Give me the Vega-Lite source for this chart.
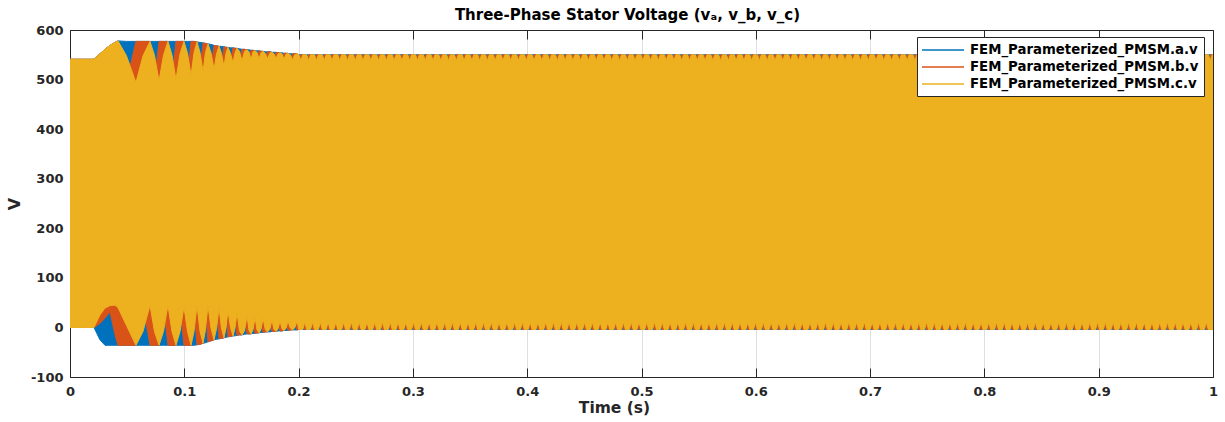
{
"$schema": "https://vega.github.io/schema/vega-lite/v6.json",
"width": 1143, "height": 347,
"autosize": {"type": "none"},
"padding": {"left": 70, "top": 30, "right": 12, "bottom": 45},
"background": "white",
"config": {"view": {"stroke": null}, "font": "DejaVu Sans"},
"title": {"text": "Three-Phase Stator Voltage (vₐ, v_b, v_c)", "font": "DejaVu Sans", "fontSize": 15, "fontWeight": "bold", "color": "#000000", "anchor": "middle", "baseline": "alphabetic", "offset": 9, "dy": 20, "dx": -14},
"data": {"format": {"type": "csv", "parse": {"t": "number", "ah": "number", "al": "number", "bh": "number", "bl": "number", "ch": "number", "cl": "number"}},
"values": "t,ah,al,bh,bl,ch,cl\n0,541,0,541,0,541,0\n0.0210,541,0,541,0,541,0\n0.0262,552,-25,552,8,552,25\n0.0306,561,-36,561,19,561,39\n0.0350,569,-36,569,31,569,44\n0.0394,575,-36,575,-15,575,45\n0.0420,578,-36,578,-36,578,40\n0.0494,577,-36,494,-36,548,4\n0.0577,577,-36,577,-36,494,-36\n0.0639,577,-36,577,45,548,-8\n0.0700,577,-36,577,-36,577,45\n0.0739,577,-36,497,-36,549,-8\n0.0779,577,-36,577,-36,497,-36\n0.0818,577,-36,577,45,549,-8\n0.0857,577,-36,577,-36,577,45\n0.0892,577,-36,500,-36,550,-8\n0.0927,577,-36,577,-36,500,-36\n0.0962,577,-36,577,42,551,-9\n0.0997,577,-36,577,-36,577,42\n0.1028,577,-36,508,-36,553,-8\n0.1059,577,-36,577,-36,508,-36\n0.1085,577,-36,577,44,554,-8\n0.1111,576,-35,576,-35,576,45\n0.1137,575,-34,517,-34,555,-7\n0.1164,574,-32,574,-32,516,-32\n0.1185,573,-31,573,43,554,-5\n0.1207,572,-29,572,-29,572,45\n0.1234,571,-27,522,-27,554,-2\n0.1260,569,-25,569,-25,520,-25\n0.1282,568,-24,568,40,552,-2\n0.1304,567,-23,567,-23,567,41\n0.1325,567,-22,527,-22,553,-1\n0.1347,566,-21,566,-21,526,-21\n0.1365,565,-20,565,34,553,-1\n0.1382,565,-19,565,-19,565,35\n0.1404,564,-18,534,-18,553,0\n0.1426,564,-17,564,-17,534,-17\n0.1444,563,-17,563,29,554,-1\n0.1461,563,-16,563,-16,563,30\n0.1483,562,-15,538,-15,557,-7\n0.1505,561,-15,561,-15,537,-15\n0.1527,561,-14,561,23,557,-7\n0.1549,560,-13,560,-13,560,24\n0.1566,560,-13,541,-13,556,-6\n0.1584,559,-13,559,-13,540,-13\n0.1601,559,-12,559,21,556,-5\n0.1619,558,-12,558,-12,558,21\n0.1636,558,-11,542,-11,555,-5\n0.1654,558,-11,558,-11,542,-11\n0.1671,557,-10,557,19,554,-4\n0.1689,557,-10,557,-10,557,19\n0.1708,556,-9,542,-9,553,-4\n0.1728,556,-9,556,-9,542,-9\n0.1748,556,-9,556,14,553,-4\n0.1767,555,-8,555,-8,555,15\n0.1785,555,-8,542,-8,552,-4\n0.1802,555,-8,555,-8,542,-8\n0.1820,554,-7,554,13,552,-3\n0.1837,554,-7,554,-7,554,13\n0.1855,554,-7,542,-7,552,-3\n0.1872,553,-6,553,-6,541,-6\n0.1890,553,-6,553,13,551,-2\n0.1907,553,-6,553,-6,553,13\n0.1927,552,-5,540,-5,550,-1\n0.1947,552,-5,552,-5,540,-5\n0.1966,552,-5,552,13,550,-1\n0.1986,552,-5,552,-5,552,13\n0.2003,550,-4,538,-4,550,-4\n0.2020,550,-4,550,-4,538,-4\n0.2037,550,-4,550,11,550,-4\n0.2054,550,-4,550,-4,550,11\n0.2071,550,-4,538,-4,550,-4\n0.2088,550,-4,550,-4,538,-4\n0.2105,550,-4,550,11,550,-4\n0.2122,550,-4,550,-4,550,11\n0.2139,550,-4,538,-4,550,-4\n0.2156,550,-4,550,-4,538,-4\n0.2173,550,-4,550,11,550,-4\n0.2190,550,-4,550,-4,550,11\n0.2207,550,-4,538,-4,550,-4\n0.2224,550,-4,550,-4,538,-4\n0.2241,550,-4,550,11,550,-4\n0.2258,550,-4,550,-4,550,11\n0.2275,550,-4,538,-4,550,-4\n0.2292,550,-4,550,-4,538,-4\n0.2309,550,-4,550,11,550,-4\n0.2326,550,-4,550,-4,550,11\n0.2343,550,-4,538,-4,550,-4\n0.2360,550,-4,550,-4,538,-4\n0.2377,550,-4,550,11,550,-4\n0.2394,550,-4,550,-4,550,11\n0.2411,550,-4,538,-4,550,-4\n0.2428,550,-4,550,-4,538,-4\n0.2445,550,-4,550,11,550,-4\n0.2462,550,-4,550,-4,550,11\n0.2479,550,-4,538,-4,550,-4\n0.2496,550,-4,550,-4,538,-4\n0.2513,550,-4,550,11,550,-4\n0.2530,550,-4,550,-4,550,11\n0.2547,550,-4,538,-4,550,-4\n0.2564,550,-4,550,-4,538,-4\n0.2581,550,-4,550,11,550,-4\n0.2598,550,-4,550,-4,550,11\n0.2615,550,-4,538,-4,550,-4\n0.2632,550,-4,550,-4,538,-4\n0.2649,550,-4,550,11,550,-4\n0.2666,550,-4,550,-4,550,11\n0.2683,550,-4,538,-4,550,-4\n0.2700,550,-4,550,-4,538,-4\n0.2717,550,-4,550,11,550,-4\n0.2734,550,-4,550,-4,550,11\n0.2751,550,-4,538,-4,550,-4\n0.2768,550,-4,550,-4,538,-4\n0.2785,550,-4,550,11,550,-4\n0.2802,550,-4,550,-4,550,11\n0.2819,550,-4,538,-4,550,-4\n0.2836,550,-4,550,-4,538,-4\n0.2853,550,-4,550,11,550,-4\n0.2870,550,-4,550,-4,550,11\n0.2887,550,-4,538,-4,550,-4\n0.2904,550,-4,550,-4,538,-4\n0.2921,550,-4,550,11,550,-4\n0.2938,550,-4,550,-4,550,11\n0.2955,550,-4,538,-4,550,-4\n0.2972,550,-4,550,-4,538,-4\n0.2989,550,-4,550,11,550,-4\n0.3006,550,-4,550,-4,550,11\n0.3023,550,-4,538,-4,550,-4\n0.3040,550,-4,550,-4,538,-4\n0.3057,550,-4,550,11,550,-4\n0.3074,550,-4,550,-4,550,11\n0.3091,550,-4,538,-4,550,-4\n0.3108,550,-4,550,-4,538,-4\n0.3125,550,-4,550,11,550,-4\n0.3142,550,-4,550,-4,550,11\n0.3159,550,-4,538,-4,550,-4\n0.3176,550,-4,550,-4,538,-4\n0.3193,550,-4,550,11,550,-4\n0.3210,550,-4,550,-4,550,11\n0.3227,550,-4,538,-4,550,-4\n0.3244,550,-4,550,-4,538,-4\n0.3261,550,-4,550,11,550,-4\n0.3278,550,-4,550,-4,550,11\n0.3295,550,-4,538,-4,550,-4\n0.3312,550,-4,550,-4,538,-4\n0.3329,550,-4,550,11,550,-4\n0.3346,550,-4,550,-4,550,11\n0.3363,550,-4,538,-4,550,-4\n0.3380,550,-4,550,-4,538,-4\n0.3397,550,-4,550,11,550,-4\n0.3414,550,-4,550,-4,550,11\n0.3431,550,-4,538,-4,550,-4\n0.3448,550,-4,550,-4,538,-4\n0.3465,550,-4,550,11,550,-4\n0.3482,550,-4,550,-4,550,11\n0.3499,550,-4,538,-4,550,-4\n0.3516,550,-4,550,-4,538,-4\n0.3533,550,-4,550,11,550,-4\n0.3550,550,-4,550,-4,550,11\n0.3567,550,-4,538,-4,550,-4\n0.3584,550,-4,550,-4,538,-4\n0.3601,550,-4,550,11,550,-4\n0.3618,550,-4,550,-4,550,11\n0.3635,550,-4,538,-4,550,-4\n0.3652,550,-4,550,-4,538,-4\n0.3669,550,-4,550,11,550,-4\n0.3686,550,-4,550,-4,550,11\n0.3703,550,-4,538,-4,550,-4\n0.3720,550,-4,550,-4,538,-4\n0.3737,550,-4,550,11,550,-4\n0.3754,550,-4,550,-4,550,11\n0.3771,550,-4,538,-4,550,-4\n0.3788,550,-4,550,-4,538,-4\n0.3805,550,-4,550,11,550,-4\n0.3822,550,-4,550,-4,550,11\n0.3839,550,-4,538,-4,550,-4\n0.3856,550,-4,550,-4,538,-4\n0.3873,550,-4,550,11,550,-4\n0.3890,550,-4,550,-4,550,11\n0.3907,550,-4,538,-4,550,-4\n0.3924,550,-4,550,-4,538,-4\n0.3941,550,-4,550,11,550,-4\n0.3958,550,-4,550,-4,550,11\n0.3975,550,-4,538,-4,550,-4\n0.3992,550,-4,550,-4,538,-4\n0.4009,550,-4,550,11,550,-4\n0.4026,550,-4,550,-4,550,11\n0.4043,550,-4,538,-4,550,-4\n0.4060,550,-4,550,-4,538,-4\n0.4077,550,-4,550,11,550,-4\n0.4094,550,-4,550,-4,550,11\n0.4111,550,-4,538,-4,550,-4\n0.4128,550,-4,550,-4,538,-4\n0.4145,550,-4,550,11,550,-4\n0.4162,550,-4,550,-4,550,11\n0.4179,550,-4,538,-4,550,-4\n0.4196,550,-4,550,-4,538,-4\n0.4213,550,-4,550,11,550,-4\n0.4230,550,-4,550,-4,550,11\n0.4247,550,-4,538,-4,550,-4\n0.4264,550,-4,550,-4,538,-4\n0.4281,550,-4,550,11,550,-4\n0.4298,550,-4,550,-4,550,11\n0.4315,550,-4,538,-4,550,-4\n0.4332,550,-4,550,-4,538,-4\n0.4349,550,-4,550,11,550,-4\n0.4366,550,-4,550,-4,550,11\n0.4383,550,-4,538,-4,550,-4\n0.4400,550,-4,550,-4,538,-4\n0.4417,550,-4,550,11,550,-4\n0.4434,550,-4,550,-4,550,11\n0.4451,550,-4,538,-4,550,-4\n0.4468,550,-4,550,-4,538,-4\n0.4485,550,-4,550,11,550,-4\n0.4502,550,-4,550,-4,550,11\n0.4519,550,-4,538,-4,550,-4\n0.4536,550,-4,550,-4,538,-4\n0.4553,550,-4,550,11,550,-4\n0.4570,550,-4,550,-4,550,11\n0.4587,550,-4,538,-4,550,-4\n0.4604,550,-4,550,-4,538,-4\n0.4621,550,-4,550,11,550,-4\n0.4638,550,-4,550,-4,550,11\n0.4655,550,-4,538,-4,550,-4\n0.4672,550,-4,550,-4,538,-4\n0.4689,550,-4,550,11,550,-4\n0.4706,550,-4,550,-4,550,11\n0.4723,550,-4,538,-4,550,-4\n0.4740,550,-4,550,-4,538,-4\n0.4757,550,-4,550,11,550,-4\n0.4774,550,-4,550,-4,550,11\n0.4791,550,-4,538,-4,550,-4\n0.4808,550,-4,550,-4,538,-4\n0.4825,550,-4,550,11,550,-4\n0.4842,550,-4,550,-4,550,11\n0.4859,550,-4,538,-4,550,-4\n0.4876,550,-4,550,-4,538,-4\n0.4893,550,-4,550,11,550,-4\n0.4910,550,-4,550,-4,550,11\n0.4927,550,-4,538,-4,550,-4\n0.4944,550,-4,550,-4,538,-4\n0.4961,550,-4,550,11,550,-4\n0.4978,550,-4,550,-4,550,11\n0.4995,550,-4,538,-4,550,-4\n0.5012,550,-4,550,-4,538,-4\n0.5029,550,-4,550,11,550,-4\n0.5046,550,-4,550,-4,550,11\n0.5063,550,-4,538,-4,550,-4\n0.5080,550,-4,550,-4,538,-4\n0.5097,550,-4,550,11,550,-4\n0.5114,550,-4,550,-4,550,11\n0.5131,550,-4,538,-4,550,-4\n0.5148,550,-4,550,-4,538,-4\n0.5165,550,-4,550,11,550,-4\n0.5182,550,-4,550,-4,550,11\n0.5199,550,-4,538,-4,550,-4\n0.5216,550,-4,550,-4,538,-4\n0.5233,550,-4,550,11,550,-4\n0.5250,550,-4,550,-4,550,11\n0.5267,550,-4,538,-4,550,-4\n0.5284,550,-4,550,-4,538,-4\n0.5301,550,-4,550,11,550,-4\n0.5318,550,-4,550,-4,550,11\n0.5335,550,-4,538,-4,550,-4\n0.5352,550,-4,550,-4,538,-4\n0.5369,550,-4,550,11,550,-4\n0.5386,550,-4,550,-4,550,11\n0.5403,550,-4,538,-4,550,-4\n0.5420,550,-4,550,-4,538,-4\n0.5437,550,-4,550,11,550,-4\n0.5454,550,-4,550,-4,550,11\n0.5471,550,-4,538,-4,550,-4\n0.5488,550,-4,550,-4,538,-4\n0.5505,550,-4,550,11,550,-4\n0.5522,550,-4,550,-4,550,11\n0.5539,550,-4,538,-4,550,-4\n0.5556,550,-4,550,-4,538,-4\n0.5573,550,-4,550,11,550,-4\n0.5590,550,-4,550,-4,550,11\n0.5607,550,-4,538,-4,550,-4\n0.5624,550,-4,550,-4,538,-4\n0.5641,550,-4,550,11,550,-4\n0.5658,550,-4,550,-4,550,11\n0.5675,550,-4,538,-4,550,-4\n0.5692,550,-4,550,-4,538,-4\n0.5709,550,-4,550,11,550,-4\n0.5726,550,-4,550,-4,550,11\n0.5743,550,-4,538,-4,550,-4\n0.5760,550,-4,550,-4,538,-4\n0.5777,550,-4,550,11,550,-4\n0.5794,550,-4,550,-4,550,11\n0.5811,550,-4,538,-4,550,-4\n0.5828,550,-4,550,-4,538,-4\n0.5845,550,-4,550,11,550,-4\n0.5862,550,-4,550,-4,550,11\n0.5879,550,-4,538,-4,550,-4\n0.5896,550,-4,550,-4,538,-4\n0.5913,550,-4,550,11,550,-4\n0.5930,550,-4,550,-4,550,11\n0.5947,550,-4,538,-4,550,-4\n0.5964,550,-4,550,-4,538,-4\n0.5981,550,-4,550,11,550,-4\n0.5998,550,-4,550,-4,550,11\n0.6015,550,-4,538,-4,550,-4\n0.6032,550,-4,550,-4,538,-4\n0.6049,550,-4,550,11,550,-4\n0.6066,550,-4,550,-4,550,11\n0.6083,550,-4,538,-4,550,-4\n0.6100,550,-4,550,-4,538,-4\n0.6117,550,-4,550,11,550,-4\n0.6134,550,-4,550,-4,550,11\n0.6151,550,-4,538,-4,550,-4\n0.6168,550,-4,550,-4,538,-4\n0.6185,550,-4,550,11,550,-4\n0.6202,550,-4,550,-4,550,11\n0.6219,550,-4,538,-4,550,-4\n0.6236,550,-4,550,-4,538,-4\n0.6253,550,-4,550,11,550,-4\n0.6270,550,-4,550,-4,550,11\n0.6287,550,-4,538,-4,550,-4\n0.6304,550,-4,550,-4,538,-4\n0.6321,550,-4,550,11,550,-4\n0.6338,550,-4,550,-4,550,11\n0.6355,550,-4,538,-4,550,-4\n0.6372,550,-4,550,-4,538,-4\n0.6389,550,-4,550,11,550,-4\n0.6406,550,-4,550,-4,550,11\n0.6423,550,-4,538,-4,550,-4\n0.6440,550,-4,550,-4,538,-4\n0.6457,550,-4,550,11,550,-4\n0.6474,550,-4,550,-4,550,11\n0.6491,550,-4,538,-4,550,-4\n0.6508,550,-4,550,-4,538,-4\n0.6525,550,-4,550,11,550,-4\n0.6542,550,-4,550,-4,550,11\n0.6559,550,-4,538,-4,550,-4\n0.6576,550,-4,550,-4,538,-4\n0.6593,550,-4,550,11,550,-4\n0.6610,550,-4,550,-4,550,11\n0.6627,550,-4,538,-4,550,-4\n0.6644,550,-4,550,-4,538,-4\n0.6661,550,-4,550,11,550,-4\n0.6678,550,-4,550,-4,550,11\n0.6695,550,-4,538,-4,550,-4\n0.6712,550,-4,550,-4,538,-4\n0.6729,550,-4,550,11,550,-4\n0.6746,550,-4,550,-4,550,11\n0.6763,550,-4,538,-4,550,-4\n0.6780,550,-4,550,-4,538,-4\n0.6797,550,-4,550,11,550,-4\n0.6814,550,-4,550,-4,550,11\n0.6831,550,-4,538,-4,550,-4\n0.6848,550,-4,550,-4,538,-4\n0.6865,550,-4,550,11,550,-4\n0.6882,550,-4,550,-4,550,11\n0.6899,550,-4,538,-4,550,-4\n0.6916,550,-4,550,-4,538,-4\n0.6933,550,-4,550,11,550,-4\n0.6950,550,-4,550,-4,550,11\n0.6967,550,-4,538,-4,550,-4\n0.6984,550,-4,550,-4,538,-4\n0.7001,550,-4,550,11,550,-4\n0.7018,550,-4,550,-4,550,11\n0.7035,550,-4,538,-4,550,-4\n0.7052,550,-4,550,-4,538,-4\n0.7069,550,-4,550,11,550,-4\n0.7086,550,-4,550,-4,550,11\n0.7103,550,-4,538,-4,550,-4\n0.7120,550,-4,550,-4,538,-4\n0.7137,550,-4,550,11,550,-4\n0.7154,550,-4,550,-4,550,11\n0.7171,550,-4,538,-4,550,-4\n0.7188,550,-4,550,-4,538,-4\n0.7205,550,-4,550,11,550,-4\n0.7222,550,-4,550,-4,550,11\n0.7239,550,-4,538,-4,550,-4\n0.7256,550,-4,550,-4,538,-4\n0.7273,550,-4,550,11,550,-4\n0.7290,550,-4,550,-4,550,11\n0.7307,550,-4,538,-4,550,-4\n0.7324,550,-4,550,-4,538,-4\n0.7341,550,-4,550,11,550,-4\n0.7358,550,-4,550,-4,550,11\n0.7375,550,-4,538,-4,550,-4\n0.7392,550,-4,550,-4,538,-4\n0.7409,550,-4,550,11,550,-4\n0.7426,550,-4,550,-4,550,11\n0.7443,550,-4,538,-4,550,-4\n0.7460,550,-4,550,-4,538,-4\n0.7477,550,-4,550,11,550,-4\n0.7494,550,-4,550,-4,550,11\n0.7511,550,-4,538,-4,550,-4\n0.7528,550,-4,550,-4,538,-4\n0.7545,550,-4,550,11,550,-4\n0.7562,550,-4,550,-4,550,11\n0.7579,550,-4,538,-4,550,-4\n0.7596,550,-4,550,-4,538,-4\n0.7613,550,-4,550,11,550,-4\n0.7630,550,-4,550,-4,550,11\n0.7647,550,-4,538,-4,550,-4\n0.7664,550,-4,550,-4,538,-4\n0.7681,550,-4,550,11,550,-4\n0.7698,550,-4,550,-4,550,11\n0.7715,550,-4,538,-4,550,-4\n0.7732,550,-4,550,-4,538,-4\n0.7749,550,-4,550,11,550,-4\n0.7766,550,-4,550,-4,550,11\n0.7783,550,-4,538,-4,550,-4\n0.7800,550,-4,550,-4,538,-4\n0.7817,550,-4,550,11,550,-4\n0.7834,550,-4,550,-4,550,11\n0.7851,550,-4,538,-4,550,-4\n0.7868,550,-4,550,-4,538,-4\n0.7885,550,-4,550,11,550,-4\n0.7902,550,-4,550,-4,550,11\n0.7919,550,-4,538,-4,550,-4\n0.7936,550,-4,550,-4,538,-4\n0.7953,550,-4,550,11,550,-4\n0.7970,550,-4,550,-4,550,11\n0.7987,550,-4,538,-4,550,-4\n0.8004,550,-4,550,-4,538,-4\n0.8021,550,-4,550,11,550,-4\n0.8038,550,-4,550,-4,550,11\n0.8055,550,-4,538,-4,550,-4\n0.8072,550,-4,550,-4,538,-4\n0.8089,550,-4,550,11,550,-4\n0.8106,550,-4,550,-4,550,11\n0.8123,550,-4,538,-4,550,-4\n0.8140,550,-4,550,-4,538,-4\n0.8157,550,-4,550,11,550,-4\n0.8174,550,-4,550,-4,550,11\n0.8191,550,-4,538,-4,550,-4\n0.8208,550,-4,550,-4,538,-4\n0.8225,550,-4,550,11,550,-4\n0.8242,550,-4,550,-4,550,11\n0.8259,550,-4,538,-4,550,-4\n0.8276,550,-4,550,-4,538,-4\n0.8293,550,-4,550,11,550,-4\n0.8310,550,-4,550,-4,550,11\n0.8327,550,-4,538,-4,550,-4\n0.8344,550,-4,550,-4,538,-4\n0.8361,550,-4,550,11,550,-4\n0.8378,550,-4,550,-4,550,11\n0.8395,550,-4,538,-4,550,-4\n0.8412,550,-4,550,-4,538,-4\n0.8429,550,-4,550,11,550,-4\n0.8446,550,-4,550,-4,550,11\n0.8463,550,-4,538,-4,550,-4\n0.8480,550,-4,550,-4,538,-4\n0.8497,550,-4,550,11,550,-4\n0.8514,550,-4,550,-4,550,11\n0.8531,550,-4,538,-4,550,-4\n0.8548,550,-4,550,-4,538,-4\n0.8565,550,-4,550,11,550,-4\n0.8582,550,-4,550,-4,550,11\n0.8599,550,-4,538,-4,550,-4\n0.8616,550,-4,550,-4,538,-4\n0.8633,550,-4,550,11,550,-4\n0.8650,550,-4,550,-4,550,11\n0.8667,550,-4,538,-4,550,-4\n0.8684,550,-4,550,-4,538,-4\n0.8701,550,-4,550,11,550,-4\n0.8718,550,-4,550,-4,550,11\n0.8735,550,-4,538,-4,550,-4\n0.8752,550,-4,550,-4,538,-4\n0.8769,550,-4,550,11,550,-4\n0.8786,550,-4,550,-4,550,11\n0.8803,550,-4,538,-4,550,-4\n0.8820,550,-4,550,-4,538,-4\n0.8837,550,-4,550,11,550,-4\n0.8854,550,-4,550,-4,550,11\n0.8871,550,-4,538,-4,550,-4\n0.8888,550,-4,550,-4,538,-4\n0.8905,550,-4,550,11,550,-4\n0.8922,550,-4,550,-4,550,11\n0.8939,550,-4,538,-4,550,-4\n0.8956,550,-4,550,-4,538,-4\n0.8973,550,-4,550,11,550,-4\n0.8990,550,-4,550,-4,550,11\n0.9007,550,-4,538,-4,550,-4\n0.9024,550,-4,550,-4,538,-4\n0.9041,550,-4,550,11,550,-4\n0.9058,550,-4,550,-4,550,11\n0.9075,550,-4,538,-4,550,-4\n0.9092,550,-4,550,-4,538,-4\n0.9109,550,-4,550,11,550,-4\n0.9126,550,-4,550,-4,550,11\n0.9143,550,-4,538,-4,550,-4\n0.9160,550,-4,550,-4,538,-4\n0.9177,550,-4,550,11,550,-4\n0.9194,550,-4,550,-4,550,11\n0.9211,550,-4,538,-4,550,-4\n0.9228,550,-4,550,-4,538,-4\n0.9245,550,-4,550,11,550,-4\n0.9262,550,-4,550,-4,550,11\n0.9279,550,-4,538,-4,550,-4\n0.9296,550,-4,550,-4,538,-4\n0.9313,550,-4,550,11,550,-4\n0.9330,550,-4,550,-4,550,11\n0.9347,550,-4,538,-4,550,-4\n0.9364,550,-4,550,-4,538,-4\n0.9381,550,-4,550,11,550,-4\n0.9398,550,-4,550,-4,550,11\n0.9415,550,-4,538,-4,550,-4\n0.9432,550,-4,550,-4,538,-4\n0.9449,550,-4,550,11,550,-4\n0.9466,550,-4,550,-4,550,11\n0.9483,550,-4,538,-4,550,-4\n0.9500,550,-4,550,-4,538,-4\n0.9517,550,-4,550,11,550,-4\n0.9534,550,-4,550,-4,550,11\n0.9551,550,-4,538,-4,550,-4\n0.9568,550,-4,550,-4,538,-4\n0.9585,550,-4,550,11,550,-4\n0.9602,550,-4,550,-4,550,11\n0.9619,550,-4,538,-4,550,-4\n0.9636,550,-4,550,-4,538,-4\n0.9653,550,-4,550,11,550,-4\n0.9670,550,-4,550,-4,550,11\n0.9687,550,-4,538,-4,550,-4\n0.9704,550,-4,550,-4,538,-4\n0.9721,550,-4,550,11,550,-4\n0.9738,550,-4,550,-4,550,11\n0.9755,550,-4,538,-4,550,-4\n0.9772,550,-4,550,-4,538,-4\n0.9789,550,-4,550,11,550,-4\n0.9806,550,-4,550,-4,550,11\n0.9823,550,-4,538,-4,550,-4\n0.9840,550,-4,550,-4,538,-4\n0.9857,550,-4,550,11,550,-4\n0.9874,550,-4,550,-4,550,11\n0.9891,550,-4,538,-4,550,-4\n0.9908,550,-4,550,-4,538,-4\n0.9925,550,-4,550,11,550,-4\n0.9942,550,-4,550,-4,550,11\n0.9959,550,-4,538,-4,550,-4\n0.9976,550,-4,550,-4,538,-4\n0.9993,550,-4,550,11,550,-4\n1,550,-4,550,-4,550,-4"},
"layer": [
{"mark": {"type": "area", "interpolate": "linear", "clip": true, "strokeWidth": 1},
 "encoding": {
  "x": {"field": "t", "type": "quantitative", "scale": {"domain": [0, 1], "nice": false, "zero": false},
        "axis": {"orient": "top", "values": [0,0.1,0.2,0.3,0.4,0.5,0.6,0.7,0.8,0.9,1], "grid": true, "gridColor": "#dfdfdf", "labels": false, "title": null, "tickSize": -9, "tickColor": "#262626", "domainColor": "#262626", "zindex": 0}},
  "y": {"field": "ah", "type": "quantitative", "scale": {"domain": [-100, 600], "nice": false, "zero": false},
        "axis": {"orient": "right", "values": [-100,0,100,200,300,400,500,600], "grid": true, "gridColor": "#dfdfdf", "labels": false, "title": null, "tickSize": -9, "tickColor": "#262626", "domainColor": "#262626", "zindex": 0}},
  "y2": {"field": "al"},
  "fill": {"datum": "FEM_Parameterized_PMSM.a.v",
    "scale": {"domain": ["FEM_Parameterized_PMSM.a.v", "FEM_Parameterized_PMSM.b.v", "FEM_Parameterized_PMSM.c.v"], "range": ["#0072BD", "#D95319", "#EDB120"]},
    "legend": {"orient": "none", "legendX": 847, "legendY": 7, "title": null, "symbolType": "M-3,0H3", "symbolSize": 196, "labelFont": "DejaVu Sans", "labelFontWeight": "bold", "labelFontSize": 13.3, "labelColor": "#000000", "labelLimit": 500, "padding": 5, "strokeColor": "#262626", "fillColor": "#ffffff", "symbolOffset": 13, "labelOffset": 19, "rowPadding": 2}},
  "stroke": {"datum": "FEM_Parameterized_PMSM.a.v",
    "scale": {"domain": ["FEM_Parameterized_PMSM.a.v", "FEM_Parameterized_PMSM.b.v", "FEM_Parameterized_PMSM.c.v"], "range": ["#0072BD", "#D95319", "#EDB120"]},
    "legend": {"orient": "none", "legendX": 847, "legendY": 7, "title": null, "symbolType": "M-3,0H3", "symbolSize": 196, "labelFont": "DejaVu Sans", "labelFontWeight": "bold", "labelFontSize": 13.3, "labelColor": "#000000", "labelLimit": 500, "padding": 5, "strokeColor": "#262626", "fillColor": "#ffffff", "symbolOffset": 13, "labelOffset": 19, "rowPadding": 2}}
 }},
{"mark": {"type": "area", "interpolate": "linear", "clip": true, "strokeWidth": 1},
 "encoding": {
  "x": {"field": "t", "type": "quantitative",
        "axis": {"orient": "bottom", "values": [0,0.1,0.2,0.3,0.4,0.5,0.6,0.7,0.8,0.9,1], "format": "~g", "labelFlush": false, "grid": false, "tickSize": -9, "tickColor": "#262626", "domainColor": "#262626", "labelPadding": 17, "labelFont": "DejaVu Sans", "labelFontSize": 13, "labelFontWeight": "bold", "labelColor": "#262626", "title": "Time (s)", "titleX": 544, "titleFont": "DejaVu Sans", "titleFontSize": 15.5, "titleFontWeight": "bold", "titleColor": "#262626", "titlePadding": 2, "zindex": 0}},
  "y": {"field": "bh", "type": "quantitative",
        "axis": {"orient": "left", "values": [-100,0,100,200,300,400,500,600], "labelExpr": "'' + datum.value", "grid": false, "tickSize": -9, "tickColor": "#262626", "domainColor": "#262626", "labelPadding": 16, "labelFont": "DejaVu Sans", "labelFontSize": 13, "labelFontWeight": "bold", "labelColor": "#262626", "title": "V", "titleFont": "DejaVu Sans", "titleFontSize": 16, "titleFontWeight": "bold", "titleColor": "#262626", "titlePadding": 8, "zindex": 0}},
  "y2": {"field": "bl"},
  "fill": {"datum": "FEM_Parameterized_PMSM.b.v"},
  "stroke": {"datum": "FEM_Parameterized_PMSM.b.v"}
 }},
{"mark": {"type": "area", "interpolate": "linear", "clip": true, "strokeWidth": 1},
 "encoding": {
  "x": {"field": "t", "type": "quantitative", "axis": null},
  "y": {"field": "ch", "type": "quantitative", "axis": null},
  "y2": {"field": "cl"},
  "fill": {"datum": "FEM_Parameterized_PMSM.c.v"},
  "stroke": {"datum": "FEM_Parameterized_PMSM.c.v"}
 }}
],
"resolve": {"axis": {"x": "independent", "y": "independent"}}
}
